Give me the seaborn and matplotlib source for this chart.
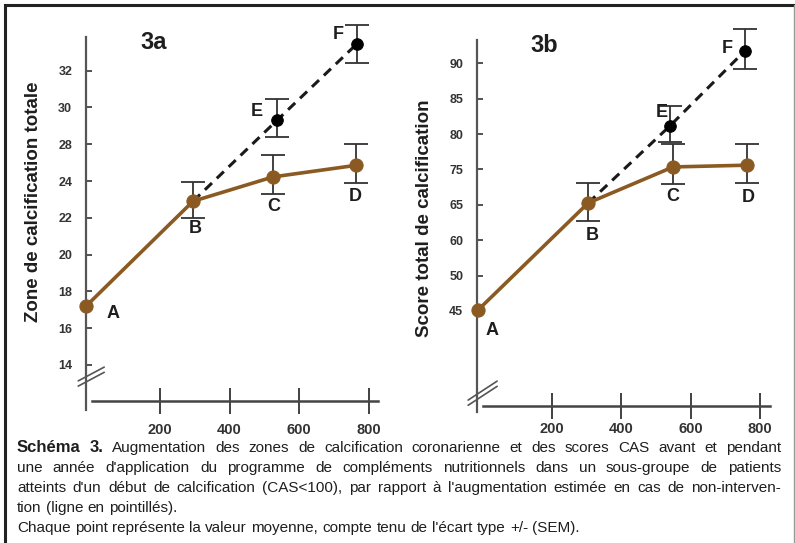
import numpy as np
import pandas as pd
import matplotlib
matplotlib.use("Agg")

import matplotlib.pyplot as plt
from matplotlib.lines import Line2D
import seaborn as sns

sns.set_style("white")
plt.rcParams['font.family'] = ['Liberation Sans', 'DejaVu Sans']

W, H = 795, 543
BROWN = '#8a5a22'

# ---- data (x = days, y = value) ----
letters_int = ['A', 'B', 'C', 'D']
letters_ext = ['E', 'F']

# 3a : zone de calcification totale
a_x_int = [-12, 295, 525, 762]
a_y_int = [17.2, 22.9, 24.45, 25.7]
a_lo_int = [np.nan, 22.0, 23.3, 23.9]
a_hi_int = [np.nan, 23.95, 26.8, 28.0]
a_x_ext = [536, 765]
a_y_ext = [29.3, 33.45]
a_lo_ext = [28.4, 32.4]
a_hi_ext = [30.45, 34.5]
a_ticks = [14, 16, 18, 20, 22, 24, 28, 30, 32]

# 3b : score total de calcification
b_x_int = [-14, 304, 549, 763]
b_y_int = [45.1, 65.5, 75.35, 75.6]
b_lo_int = [np.nan, 62.7, 70.9, 71.2]
b_hi_int = [np.nan, 71.2, 78.6, 78.6]
b_x_ext = [541, 757]
b_y_ext = [81.2, 91.8]
b_lo_ext = [78.9, 89.2]
b_hi_ext = [84.0, 94.8]
b_ticks = [45, 50, 60, 65, 75, 80, 85, 90]

x_ticks = [200, 400, 600, 800]


def tick_scale(ticks):
    # the printed axis puts its (uneven) labels at even spacing
    step_lo = ticks[1] - ticks[0]
    step_hi = ticks[-1] - ticks[-2]
    vals = [ticks[0] - k * step_lo for k in range(6, 0, -1)] + list(ticks) + \
           [ticks[-1] + k * step_hi for k in range(1, 6)]
    idx = np.arange(len(vals), dtype=float) - 6
    vals = np.asarray(vals, float)
    return (lambda y: np.interp(y, vals, idx)), (lambda p: np.interp(p, idx, vals))


def panel(ax, title, ylabel, ticks, ylim, xlim, x_int, y_int, lo_int, hi_int,
          x_ext, y_ext, lo_ext, hi_ext, offs, spine_y, spine_x0, brk, lab_xy, xpad):
    ax.set_yscale('function', functions=tick_scale(ticks))
    ax.set_ylim(*ylim)
    ax.set_xlim(*xlim)

    d_int = pd.DataFrame({'x': x_int, 'y': y_int, 'lo': lo_int, 'hi': hi_int, 'p': letters_int})
    d_ext = pd.DataFrame({'x': x_ext, 'y': y_ext, 'lo': lo_ext, 'hi': hi_ext, 'p': letters_ext})
    d_dash = pd.concat([d_int[d_int.p == 'B'], d_ext])

    sns.lineplot(data=d_dash, x='x', y='y', ax=ax, sort=False, color='#1a1a1a',
                 lw=2.2, dashes=False, linestyle=(0, (3.2, 2.2)), zorder=2, clip_on=False)
    sns.lineplot(data=d_int, x='x', y='y', ax=ax, sort=False, color=BROWN, lw=2.6,
                 marker='o', markersize=9.5, markeredgecolor=BROWN, zorder=4, clip_on=False)
    sns.scatterplot(data=d_ext, x='x', y='y', ax=ax, color='black', s=70,
                    edgecolor='black', zorder=5, clip_on=False)

    for d in (d_int, d_ext):
        e = d.dropna()
        cont = ax.errorbar(e.x, e.y, yerr=[e.y - e.lo, e.hi - e.y], fmt='none',
                           ecolor='#333333', elinewidth=1.3, capsize=8.5, capthick=1.3, zorder=3)
        for art in cont.lines[1] + cont.lines[2]:
            art.set_clip_on(False)

    for d in (d_int, d_ext):
        for _, r in d.iterrows():
            dx, dy = offs[r.p]
            ax.annotate(r.p, (r.x, r.y), xytext=(dx, dy), textcoords='offset points',
                        ha='center', va='center', fontsize=13, fontweight='bold',
                        color='#1e1e1e', zorder=6)

    ax.set_xlabel('')
    ax.set_ylabel(ylabel, fontsize=13.5, fontweight='bold', color='#1e1e1e')
    ax.yaxis.set_label_coords(*lab_xy)
    ax.text(0.23, 0.985, title, transform=ax.transAxes, ha='center', va='center',
            fontsize=17, fontweight='bold', color='#1e1e1e')

    ax.set_yticks(ticks)
    ax.set_yticklabels([str(t) for t in ticks])
    ax.set_xticks(x_ticks)
    ax.set_xticklabels([str(t) for t in x_ticks])
    ax.minorticks_off()
    ax.spines[['top', 'right']].set_visible(False)
    ax.spines['left'].set_color('#555555')
    ax.spines['left'].set_linewidth(1.6)
    ax.spines['bottom'].set_color('#444444')
    ax.spines['bottom'].set_linewidth(1.8)
    ax.spines['bottom'].set_position(('data', spine_y))
    ax.spines['bottom'].set_bounds(spine_x0, xlim[1])
    ax.tick_params(axis='x', bottom=True, direction='inout', length=19, width=1.3, pad=xpad,
                   labelsize=10.5, colors='#333333')
    ax.tick_params(axis='y', left=True, direction='in', length=4.5, width=1.2, pad=10,
                   labelsize=9, colors='#333333')
    for lbl in ax.get_xticklabels() + ax.get_yticklabels():
        lbl.set_fontweight('bold')

    # axis break marks
    (x0, x1), (y0, y1) = brk
    for sh in (0.0, -0.014):
        ax.add_line(Line2D([x0, x1], [y0 + sh, y1 + sh], transform=ax.transAxes,
                           color='#555555', lw=1.2, clip_on=False))


fig = plt.figure(figsize=(W / 100, H / 100), dpi=100)

ax_a = fig.add_axes([86.1 / W, (H - 410) / H, 291.9 / W, 373 / H])
ax_b = fig.add_axes([477.2 / W, (H - 412) / H, 292.9 / W, 372 / H])

pt = 0.72
offs_a = {'A': (27 * pt, -7 * pt), 'B': (2 * pt, -27 * pt), 'C': (1 * pt, -30 * pt),
          'D': (0, -31 * pt), 'E': (-20 * pt, 9 * pt), 'F': (-19 * pt, 9 * pt)}
offs_b = {'A': (14 * pt, -20 * pt), 'B': (4 * pt, -32 * pt), 'C': (0, -30 * pt),
          'D': (1 * pt, -32 * pt), 'E': (-8 * pt, 13 * pt), 'F': (-18 * pt, 2 * pt)}

panel(ax_a, '3a', 'Zone de calcification totale', a_ticks, (11.55, 33.83), (-12, 826),
      a_x_int, a_y_int, a_lo_int, a_hi_int, a_x_ext, a_y_ext, a_lo_ext, a_hi_ext,
      offs_a, 12.04, 5, ((-0.027, 0.062), (0.078, 0.115)), (-0.152, 0.557), 6.0)
panel(ax_b, '3b', 'Score total de calcification', b_ticks, (30.7, 93.3), (-16, 829),
      b_x_int, b_y_int, b_lo_int, b_hi_int, b_x_ext, b_y_ext, b_lo_ext, b_hi_ext,
      offs_b, 31.6, 1, ((-0.031, 0.068), (0.032, 0.083)), (-0.150, 0.52), 2.5)

# ---- caption, justified like the printed page ----
caption = [
    ("Schéma 3.", "Augmentation des zones de calcification coronarienne et des scores CAS avant et pendant", True),
    ("", "une année d'application du programme de compléments nutritionnels dans un sous-groupe de patients", True),
    ("", "atteints d'un début de calcification (CAS<100), par rapport à l'augmentation estimée en cas de non-interven-", True),
    ("", "tion (ligne en pointillés).", False),
    ("", "Chaque point représente la valeur moyenne, compte tenu de l'écart type +/- (SEM).", False),
]
line_y = [448, 468, 488, 508, 528]
left, right = 17, 781
renderer = fig.canvas.get_renderer()
for (bold_part, text, justify), yy in zip(caption, line_y):
    items = [(w, True) for w in bold_part.split()] + [(w, False) for w in text.split()]
    arts = []
    for w, b in items:
        arts.append(fig.text(0, 1 - yy / H, w, fontsize=12 if b else 11,
                             fontweight='bold' if b else 'normal', color='#1e1e1e',
                             ha='left', va='center'))
    widths = [a.get_window_extent(renderer).width for a in arts]
    gap = (right - left - sum(widths)) / (len(arts) - 1) if justify else 4.3
    x = left
    for a, w in zip(arts, widths):
        a.set_x(x / W)
        x += w + gap

# ---- page frame ----
fig.add_artist(Line2D([4.5 / W, 4.5 / W], [0, 1 - 4.5 / H], transform=fig.transFigure,
                      color='#222222', lw=2.2, solid_capstyle='projecting'))
fig.add_artist(Line2D([4.5 / W, 1], [1 - 4.5 / H, 1 - 4.5 / H], transform=fig.transFigure,
                      color='#222222', lw=2.2, solid_capstyle='projecting'))
fig.add_artist(Line2D([1 - 0.8 / W, 1 - 0.8 / W], [0, 1 - 4.5 / H], transform=fig.transFigure,
                      color='#999999', lw=1.0))

fig.savefig('out.png', dpi=100)
plt.close(fig)
